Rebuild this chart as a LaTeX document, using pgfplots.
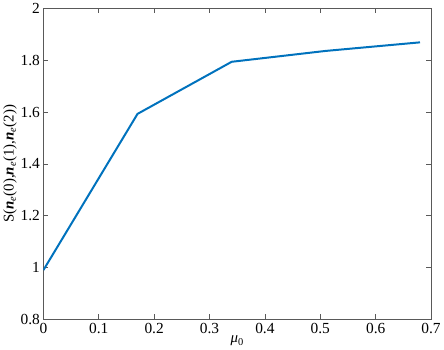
\documentclass[border=0pt]{standalone}
\usepackage{fontspec}
\setmainfont{Liberation Serif}
\usepackage{pgfplots}
\pgfplotsset{compat=1.18}
\definecolor{mblue}{rgb}{0,0.447,0.741}
\newcommand{\nn}{\textbf{\textit{n}}\textsubscript{\textit{e}}}
\begin{document}
\begin{tikzpicture}[x=1bp,y=1bp]
\begin{axis}[
  scale only axis,
  width=389bp, height=312bp,
  xmin=0, xmax=0.7, ymin=0.8, ymax=2,
  xtick={0,0.1,...,0.7},
  ytick={0.8,1,...,2.01},
  tick pos=both,
  yticklabel style={/pgf/number format/fixed,/pgf/number format/precision=1},
  xticklabel style={/pgf/number format/fixed,/pgf/number format/precision=1},
  /pgf/number format/assume math mode=true,
  tick align=inside,
  major tick length=5bp,
  axis line style={gray!70!black, line width=0.6bp},
  every tick/.style={gray!70!black, line width=0.6bp},
  tick label style={font=\fontsize{15.5}{17}\selectfont},
  label style={font=\fontsize{15}{17}\selectfont},
  xlabel={\textit{μ}\textsubscript{0}},
  ylabel={S(\nn(0),\nn(1),\nn(2))},
  xlabel style={yshift=4bp},
  ylabel style={yshift=-3bp},
]
\addplot[mblue, line width=2bp] coordinates {
(0,0.99) (0.17,1.593) (0.34,1.794) (0.51,1.836) (0.68,1.869)
};
\end{axis}
\end{tikzpicture}
\end{document}
